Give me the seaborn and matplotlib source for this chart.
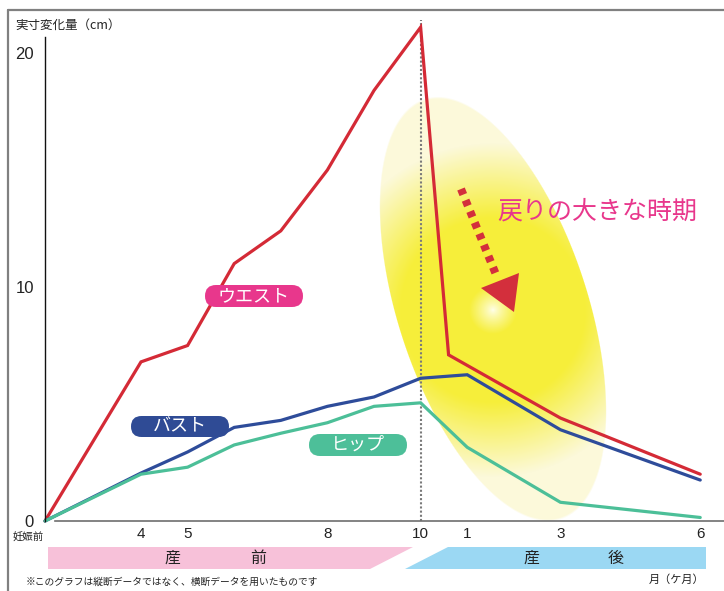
import numpy as np
import pandas as pd
import matplotlib
matplotlib.use("Agg")
import matplotlib.pyplot as plt
import seaborn as sns
from matplotlib.patches import Polygon, FancyBboxPatch

# Months counted from the start of pregnancy; postpartum months continue after 10
months = [0, 4, 5, 6, 7, 8, 9, 10, 11, 13, 16]
waist_months = [0, 4, 5, 6, 7, 8, 9, 10, 10.6, 13, 16]
waist = [0, 6.8, 7.5, 11.0, 12.4, 15.0, 18.4, 21.1, 7.1, 4.4, 2.0]
bust = [0, 2.05, 2.95, 4.0, 4.3, 4.9, 5.3, 6.1, 6.25, 3.9, 1.75]
hip = [0, 2.0, 2.3, 3.25, 3.75, 4.2, 4.9, 5.05, 3.15, 0.8, 0.15]

series_names = ["ウエスト", "バスト", "ヒップ"]
line_colors = ["#d42a36", "#2e4c9a", "#4cbf98"]
pill_colors = ["#e8378c", "#2f4b95", "#4dbf99"]

xtick_pos = [4, 5, 8, 10, 11, 13, 16]
xtick_labels = ["4", "5", "8", "10", "1", "3", "6"]
ytick_pos = [0, 10, 20]
ytick_labels = ["0", "10", "20"]

sns.set_theme(style="white")
plt.rcParams["font.family"] = ["Noto Sans CJK JP", "DejaVu Sans"]

W, H = 724, 591
fig = plt.figure(figsize=(W / 100, H / 100), dpi=100)
fig.patch.set_facecolor("white")

# background layer in pixel units: highlight ellipse, arrow, frame
bg = fig.add_axes([0, 0, 1, 1], zorder=0)
bg.set_xlim(0, W)
bg.set_ylim(H, 0)
bg.axis("off")

yy, xx = np.mgrid[0:H, 0:W] + 0.5
cx, cy, a, b, th = 493, 309, 220, 95, np.deg2rad(18)
dx, dy = xx - cx, yy - cy
u = dx * np.sin(th) + dy * np.cos(th)
v = dx * np.cos(th) - dy * np.sin(th)
e = np.sqrt((u / a) ** 2 + (v / b) ** 2)
alpha = np.clip((1 - e) * 90 + 0.5, 0, 1)
r = np.hypot(xx - 493, yy - 310)
glow = np.array([1.0, 1.0, 0.93])
yellow = np.array([246, 238, 58]) / 255
pale = np.array([252, 249, 218]) / 255
t1 = (np.clip(r / 24, 0, 1) ** 0.8)[..., None]
t2 = np.clip((r - 92) / 75, 0, 1)[..., None]
col = glow * (1 - t1) + yellow * t1
col = col * (1 - t2) + pale * t2
img = np.dstack([col, alpha])
bg.imshow(img, extent=(0, W, H, 0), interpolation="bilinear", zorder=1)

# dashed arrow
arrow_col = "#d32f3c"
bg.plot([461, 497], [189, 277], color=arrow_col, lw=5.8,
        dashes=(0.75, 0.75), dash_capstyle="butt", zorder=2)
bg.add_patch(Polygon([(481, 288), (519, 273), (514, 312)], closed=True,
                     facecolor=arrow_col, edgecolor="none", zorder=2))

# outer frame
bg.plot([8, 8], [10, H], color="#808080", lw=1.6, zorder=2)
bg.plot([8, W], [10, 10], color="#808080", lw=1.6, zorder=2)

# main chart
ax = fig.add_axes([45 / W, 70 / H, 1 - 45 / W, 501 / H], zorder=1)
ax.patch.set_alpha(0)

df = pd.DataFrame({
    "month": waist_months + months + months,
    "change": waist + bust + hip,
    "part": [series_names[0]] * len(waist) + [series_names[1]] * len(bust)
            + [series_names[2]] * len(hip),
})

ax.axvline(10, color="#7a7a7a", ls=(0, (1, 1)), lw=1.5, zorder=1)

sns.lineplot(data=df, x="month", y="change", hue="part",
             palette=dict(zip(series_names, line_colors)),
             estimator=None, sort=False, legend=False, lw=2.3, ax=ax)
for ln in ax.lines:
    ln.set_solid_joinstyle("miter")
    ln.set_clip_on(False)


def fwd(x):
    x = np.asarray(x, float)
    return np.where(x < 4, 4 - (4 - x) * 0.515, x)


def inv(t):
    t = np.asarray(t, float)
    return np.where(t < 4, 4 - (4 - t) / 0.515, t)


ax.set_xscale("function", functions=(fwd, inv))
ax.set_xlim(0, 16.51)
ax.set_ylim(0, 501 / 23.4)
ax.set_xlabel("")
ax.set_ylabel("")

ax.set_xticks(xtick_pos)
ax.set_xticklabels(xtick_labels, fontsize=11, color="#222222",
                   fontfamily=["Liberation Sans", "DejaVu Sans"])
ax.xaxis.set_minor_locator(matplotlib.ticker.NullLocator())
ax.set_yticks(ytick_pos)
ax.set_yticklabels(ytick_labels, fontsize=12, color="#222222",
                   fontfamily=["Liberation Sans Narrow", "Liberation Sans", "DejaVu Sans"])
ax.tick_params(axis="x", length=0, pad=4)
ax.tick_params(axis="y", length=0, pad=8)

for s in ["top", "right"]:
    ax.spines[s].set_visible(False)
ax.spines["left"].set_color("#111111")
ax.spines["left"].set_linewidth(1.0)
ax.spines["left"].set_bounds(0, (521 - 37) / 23.4)
ax.spines["bottom"].set_color("#6e6e6e")
ax.spines["bottom"].set_linewidth(1.2)
ax.spines["bottom"].set_bounds(0.41, 16.51)

# foreground layer: labels, period bars, notes
fg = fig.add_axes([0, 0, 1, 1], zorder=2)
fg.set_xlim(0, W)
fg.set_ylim(H, 0)
fg.axis("off")

pills = [(254, 296, 98, 22), (180, 426.5, 98, 21), (358, 445, 98, 22)]
for name, pc, (px, py, pw, ph) in zip(series_names, pill_colors, pills):
    fg.add_patch(FancyBboxPatch((px - pw / 2, py - ph / 2), pw, ph,
                                boxstyle=f"round,pad=0,rounding_size={ph / 2}",
                                facecolor=pc, edgecolor="none"))
    fg.text(px, py, name, color="white", fontsize=13, ha="center", va="center")

fg.text(497, 212, "戻りの大きな時期", color="#e8378c", fontsize=18,
        ha="left", va="center")

fg.add_patch(Polygon([(48, 547), (413, 547), (370, 569), (48, 569)],
                     closed=True, facecolor="#f7c1d9", edgecolor="none"))
fg.add_patch(Polygon([(448, 547), (706, 547), (706, 569), (405, 569)],
                     closed=True, facecolor="#9bd8f3", edgecolor="none"))
for tx, ch in [(172, "産"), (258, "前"), (531, "産"), (616, "後")]:
    fg.text(tx, 558, ch, fontsize=11.5, color="#222222", ha="center", va="center")

fg.text(15, 25, "実寸変化量（cm）", fontsize=9, color="#222222", ha="left", va="center")
fg.text(28, 538, "妊娠前", fontsize=7.5, color="#222222", ha="center", va="center")
fg.text(704, 580, "月（ケ月）", fontsize=8, color="#222222", ha="right", va="center")
fg.text(26, 582, "※このグラフは縦断データではなく、横断データを用いたものです",
        fontsize=7, color="#222222", ha="left", va="center")

fig.savefig("out.png", dpi=100)
